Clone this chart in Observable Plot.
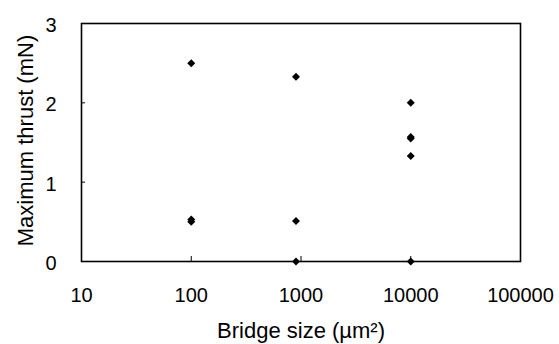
<!DOCTYPE html>
<html>
<head>
<meta charset="utf-8">
<script src="https://cdn.jsdelivr.net/npm/d3@7"></script>
<script src="https://cdn.jsdelivr.net/npm/@observablehq/plot@0.6"></script>
<style>
  body { margin: 0; background: #fff; }
  #chart svg { display: block; }
</style>
</head>
<body>
<div id="chart"></div>
<script>
// Data
const bridgeSize = [100, 100, 100, 900, 900, 900, 10000, 10000, 10000, 10000, 10000];
const maxThrust  = [2.50, 0.53, 0.50, 2.33, 0.51, 0.00, 2.00, 1.57, 1.55, 1.33, 0.00];
const xTicks = [10, 100, 1000, 10000, 100000];
const yTicks = [0, 1, 2, 3];
const xTitle = "Bridge size (µm²)";
const yTitle = "Maximum thrust (mN)";

const data = bridgeSize.map((x, i) => ({x, y: maxThrust[i]}));
const font = "Liberation Sans, Arial, sans-serif";

const chart = Plot.plot({
  width: 559,
  height: 344,
  marginLeft: 81,
  marginRight: 39,
  marginTop: 23,
  marginBottom: 83,
  style: {fontFamily: font, fontSize: "20px", color: "#000", background: "#fff"},
  x: {type: "log", domain: [10, 100000]},
  y: {domain: [0, 3]},
  marks: [
    Plot.axisX(xTicks, {tickSize: -5, tickPadding: 31, tickFormat: d => String(d), label: null, fontSize: 20, stroke: "#000"}),
    Plot.axisY(yTicks, {tickSize: -4, label: null, text: null, stroke: "#000"}),
    Plot.text(yTicks, {x: 10, y: d => d, text: d => String(d), frameAnchor: "left", textAnchor: "end", lineAnchor: "middle", dx: -25, dy: 2, fontSize: 20, fill: "#000"}),
    Plot.frame({stroke: "#000", strokeWidth: 1.6}),
    Plot.dot(data, {x: "x", y: "y", symbol: "diamond2", r: 3.6, fill: "#000", stroke: "none"}),
    Plot.text([xTitle], {frameAnchor: "bottom", dy: 69, lineAnchor: "middle", textAnchor: "middle", text: d => d, fontSize: 22, fill: "#000"}),
    Plot.text([yTitle], {frameAnchor: "left", dx: -56, dy: -2, rotate: -90, lineAnchor: "middle", textAnchor: "middle", text: d => d, fontSize: 22, fill: "#000"})
  ]
});
document.getElementById("chart").append(chart);
</script>
</body>
</html>
